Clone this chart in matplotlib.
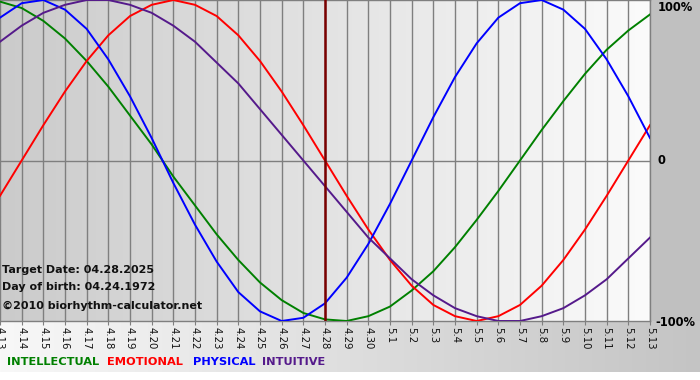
import numpy as np
import matplotlib
matplotlib.use("Agg")
import matplotlib.pyplot as plt
from matplotlib.colors import to_rgb

# ---- data (one per day) -------------------------------------------------
day_labels = ["4.13", "4.14", "4.15", "4.16", "4.17", "4.18", "4.19", "4.20",
              "4.21", "4.22", "4.23", "4.24", "4.25", "4.26", "4.27", "4.28",
              "4.29", "4.30", "5.1", "5.2", "5.3", "5.4", "5.5", "5.6", "5.7",
              "5.8", "5.9", "5.10", "5.11", "5.12", "5.13"]

physical = [0.89, 0.98, 1.00, 0.94, 0.82, 0.63, 0.40, 0.14, -0.14, -0.40,
            -0.63, -0.82, -0.94, -1.00, -0.98, -0.89, -0.73, -0.52, -0.27, 0.00,
            0.27, 0.52, 0.73, 0.89, 0.98, 1.00, 0.94, 0.82, 0.63, 0.40, 0.14]
emotional = [-0.22, 0.00, 0.22, 0.43, 0.62, 0.78, 0.90, 0.97, 1.00, 0.97,
             0.90, 0.78, 0.62, 0.43, 0.22, 0.00, -0.22, -0.43, -0.62, -0.78,
             -0.90, -0.97, -1.00, -0.97, -0.90, -0.78, -0.62, -0.43, -0.22, 0.00, 0.22]
intellectual = [0.99, 0.95, 0.87, 0.76, 0.62, 0.46, 0.28, 0.10, -0.10, -0.28,
                -0.46, -0.62, -0.76, -0.87, -0.95, -0.99, -1.00, -0.97, -0.91, -0.81,
                -0.69, -0.54, -0.37, -0.19, 0.00, 0.19, 0.37, 0.54, 0.69, 0.81, 0.91]
intuitive = [0.74, 0.84, 0.92, 0.97, 1.00, 1.00, 0.97, 0.92, 0.84, 0.74,
             0.61, 0.48, 0.32, 0.16, 0.00, -0.16, -0.32, -0.48, -0.61, -0.74,
             -0.84, -0.92, -0.97, -1.00, -1.00, -0.97, -0.92, -0.84, -0.74, -0.61, -0.48]

target_label = "4.28"
info_lines = ["Target Date: 04.28.2025", "Day of birth: 04.24.1972",
              "\u00a92010 biorhythm-calculator.net"]

series = [("INTELLECTUAL", intellectual, "#008000"),
          ("EMOTIONAL", emotional, "#ff0000"),
          ("PHYSICAL", physical, "#0000ff"),
          ("INTUITIVE", intuitive, "#551a8b")]

# ---- figure ------------------------------------------------------------
W, H = 700, 380
fig = plt.figure(figsize=(W / 100, H / 100), dpi=100)

# background: gray right column + gradient strip under the plot
bg = np.ones((H, W, 3))
plot_w, plot_h, strip_end = 650, 321, 372
bg[:plot_h, plot_w:] = np.array(to_rgb("#c0c0c0"))
t = np.linspace(0, 1, W)[:, None]
strip = (1 - t) * np.array(to_rgb("#f8f8f8")) + t * np.array(to_rgb("#c4c4c4"))
bg[plot_h:strip_end, :] = strip[None, :, :]
ax_bg = fig.add_axes([0, 0, 1, 1], zorder=-10)
ax_bg.imshow(bg, aspect="auto", interpolation="bilinear")
ax_bg.axis("off")

ax = fig.add_axes([0, (H - plot_h) / H, plot_w / W, plot_h / H])
x = np.arange(len(day_labels))
ax.set_xlim(0, len(day_labels) - 1)
ax.set_ylim(-1, 1)

# plot area gradient, darker on the left
grad = np.linspace(0, 1, 200)[None, :, None]
grad_img = (1 - grad) * np.array(to_rgb("#cbcbcb")) + grad * np.array(to_rgb("#fbfbfb"))
ax.imshow(grad_img, extent=(0, len(day_labels) - 1, -1, 1), aspect="auto",
          interpolation="bilinear", zorder=0)

# ---- grid lines --------------------------------------------------------
for xi in x:
    ax.axvline(xi, color="#7f7f7f", lw=1.0, zorder=1)
ax.axhline(0, color="#7f7f7f", lw=1.0, zorder=1)
ax.axvline(day_labels.index(target_label), color="#7a0000", lw=1.8, zorder=4)

for name, vals, col in series:
    ax.plot(x, vals, color=col, lw=1.4, zorder=3, solid_joinstyle="round")

for side in ["top", "right", "bottom", "left"]:
    ax.spines[side].set_color("#7f7f7f")
    ax.spines[side].set_linewidth(1.0)
ax.spines["left"].set_visible(False)

ax.set_xticks(x)
ax.set_xticklabels(day_labels, rotation=-90, fontsize=7.3, color="#111111",
                   va="top", ha="center")
ax.tick_params(axis="x", direction="out", length=3, width=0.8, color="#7f7f7f", pad=1)
ax.set_yticks([])

# ---- right labels ------------------------------------------------------
fig.text(658 / W, 1 - 1 / H, "100%", fontsize=8.3, fontweight="bold", va="top", ha="left")
fig.text(658 / W, 1 - 161 / H, "0", fontsize=8.3, fontweight="bold", va="center", ha="left")
fig.text(655 / W, 1 - 322 / H, "-100%", fontsize=8.3, fontweight="bold", va="center", ha="left")

# ---- info text ---------------------------------------------------------
for txt, ypx in zip(info_lines, [270, 287, 306]):
    fig.text(2 / W, 1 - ypx / H, txt, fontsize=8, fontweight="bold",
             va="center", ha="left", color="#111111", zorder=5)

# ---- legend row --------------------------------------------------------
legend_x = [7, 107, 193, 262]
for (name, vals, col), lx in zip(series, legend_x):
    fig.text(lx / W, 1 - 362 / H, name, fontsize=8.2, fontweight="bold",
             color=col, va="center", ha="left")

fig.savefig("out.png", dpi=100)
